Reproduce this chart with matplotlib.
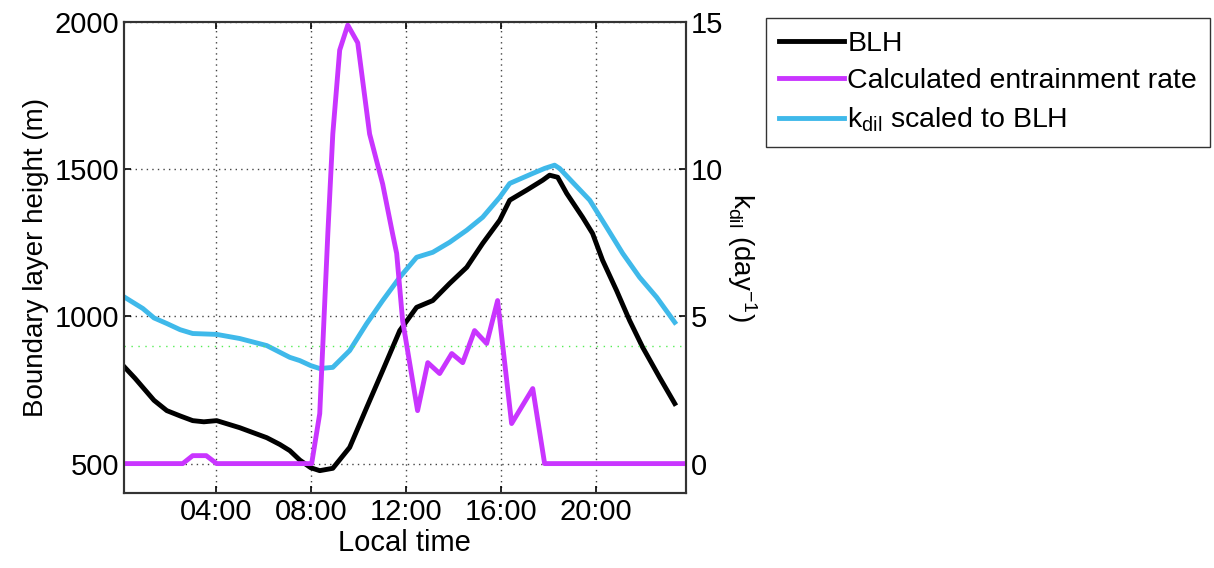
import matplotlib
matplotlib.use("Agg")
import matplotlib.pyplot as plt

plt.rcParams["font.family"] = ["Liberation Sans", "DejaVu Sans"]
plt.rcParams["mathtext.fontset"] = "custom"
plt.rcParams["mathtext.rm"] = "Liberation Sans"
plt.rcParams["mathtext.it"] = "Liberation Sans"

# boundary layer height (m), local time in hours
blh_t = [0.17, 0.6, 0.93, 1.4, 1.94, 2.5, 3.03, 3.5, 4.04, 5.01, 6.15, 6.7, 7.12, 7.54,
         8.0, 8.38, 8.93, 9.64, 10.36, 11.03, 11.75, 12.46, 13.14, 13.85, 14.57,
         15.24, 15.96, 16.38, 17.09, 17.77, 18.06, 18.40, 18.78, 19.45, 19.87,
         20.29, 20.88, 21.43, 21.98, 22.69, 23.33]
blh = [827, 790, 759, 715, 680, 662, 646, 642, 646, 622, 588, 565, 544, 512,
       486, 476, 484, 555, 691, 816, 952, 1031, 1054, 1112, 1167,
       1248, 1327, 1395, 1429, 1463, 1480, 1473, 1418, 1337, 1282,
       1191, 1088, 986, 895, 793, 704]

# k_dil scaled to BLH (m)
kdil_t = [0.17, 0.93, 1.4, 1.94, 2.5, 3.03, 4.04, 5.01, 6.15, 7.12, 7.54, 8.0, 8.38,
          8.93, 9.64, 10.36, 11.03, 11.75, 12.46, 13.14, 13.85, 14.57, 15.24, 15.96,
          16.38, 17.35, 17.85, 18.27, 18.48, 19.03, 19.75, 20.46, 21.14, 21.85,
          22.57, 23.33]
kdil_blh = [1065, 1027, 995, 976, 955, 942, 939, 925, 901, 861, 850, 833, 823,
            827, 884, 976, 1054, 1133, 1201, 1218, 1252, 1293, 1337, 1405,
            1452, 1486, 1503, 1514, 1503, 1456, 1395, 1303, 1214, 1133,
            1065, 980]

# calculated entrainment rate (day^-1)
ent_t = [0.13, 2.61, 3.03, 3.6, 4.04, 8.04, 8.38, 8.72, 8.93, 9.22, 9.56, 9.98,
         10.48, 11.03, 11.45, 11.62, 11.87, 12.5, 12.93, 13.43, 13.94, 14.4,
         14.9, 15.41, 15.87, 16.46, 17.35, 17.85, 23.8]
ent = [0, 0, 0.27, 0.27, 0, 0, 1.7, 7.8, 11.2, 14.05, 14.9, 14.3,
       11.2, 9.5, 7.8, 7.14, 4.86, 1.8, 3.43, 3.06, 3.74, 3.43,
       4.52, 4.08, 5.54, 1.36, 2.55, 0, 0]

xticks = [4, 8, 12, 16, 20]
xticklabels = ["04:00", "08:00", "12:00", "16:00", "20:00"]

fig = plt.figure(figsize=(12.14, 5.68), dpi=100)
ax = fig.add_axes([0.102, 0.132, 0.463, 0.829])
ax2 = ax.twinx()

l1, = ax.plot(blh_t, blh, color="black", lw=3.5)
l3, = ax.plot(kdil_t, kdil_blh, color="#3fb9ea", lw=3.5)
l2, = ax2.plot(ent_t, ent, color="#c935ff", lw=3.5)
ax2.axhline(4, color="#55ee55", ls=(0, (1, 4)), lw=1.0)

ax.set_xlim(0.13, 23.8)
ax.set_ylim(400, 2000)
ax2.set_ylim(-1, 15)
ax.set_xticks(xticks)
ax.set_xticklabels(xticklabels)
ax.set_yticks([500, 1000, 1500, 2000])
ax2.set_yticks([0, 5, 10, 15])
ax.grid(True, color="#444444", ls=(0, (1, 3)), lw=1.0)

ax.set_xlabel("Local time", fontsize=21, labelpad=2)
ax.set_ylabel("Boundary layer height (m)", fontsize=20, labelpad=4)
ax2.set_ylabel(r"k$_{\mathrm{dil}}$ (day$^{-1}$)", fontsize=20, rotation=270, labelpad=26)

for a in (ax, ax2):
    a.tick_params(direction="in", labelsize=21, length=5, width=1.2)
    for s in a.spines.values():
        s.set_color("#333333")
        s.set_linewidth(1.5)
ax.tick_params(top=True)

fig.legend([l1, l2, l3], ["BLH", "Calculated entrainment rate", r"k$_{\mathrm{dil}}$ scaled to BLH"],
           loc="upper left", bbox_to_anchor=(0.631, 0.968), borderaxespad=0, fontsize=20.5,
           fancybox=False, edgecolor="#333333", framealpha=1,
           handlelength=2.3, handletextpad=0.1, labelspacing=0.4, borderpad=0.45)

fig.savefig("out.png", dpi=100)
